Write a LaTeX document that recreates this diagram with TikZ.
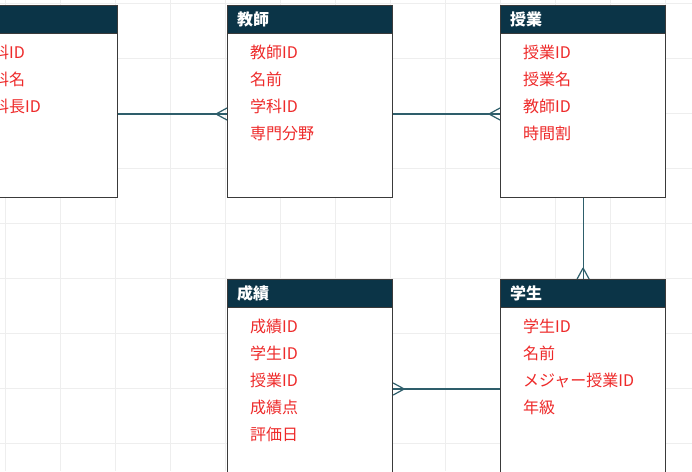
\documentclass[tikz,border=0pt]{standalone}
\usepackage{fontspec}
\newfontfamily\jp{Noto Sans CJK JP}
\usetikzlibrary{calc}
\definecolor{hdr}{HTML}{0B3447}
\definecolor{edgec}{HTML}{2E5E6B}
\definecolor{attr}{HTML}{EE2A2A}
\definecolor{gridc}{HTML}{EEEEEE}
\definecolor{boxc}{HTML}{3A3A3A}
\tikzset{
  entity/.style={draw=boxc, line width=1.2pt, fill=white, minimum width=165pt, minimum height=192pt, anchor=north west, inner sep=0pt},
  tallentity/.style={entity, minimum height=210pt},
  header/.style={draw=boxc, line width=1.2pt, fill=hdr, minimum width=165pt, minimum height=28pt, anchor=north west, inner sep=0pt},
  title/.style={anchor=west, text=white, inner sep=0pt, font=\jp\bfseries\fontsize{16}{19}\selectfont},
  field/.style={anchor=west, text=attr, inner sep=0pt, font=\jp\fontsize{16}{19}\selectfont},
  rel/.style={draw=edgec, line width=1.2pt},
}
\begin{document}
\begin{tikzpicture}[x=1pt,y=-1pt]
\useasboundingbox (0,0) rectangle (692,471);
\clip (0,0) rectangle (692,471);
\fill[white] (0,0) rectangle (692,471);
\foreach \x in {5,60,...,665} \draw[gridc, line width=0.6pt] (\x,0) -- (\x,471);
\foreach \y in {3,58,...,443} \draw[gridc, line width=0.6pt] (0,\y) -- (692,\y);

% left (partly hidden) entity
\node[entity] (gk) at (-48,5) {};
\node[header] (gkh) at (-48,5) {};
\node[field] (gk1) at (-23,52) {学科ID};
\node[field] (gk2) at (-23,79) {学科名};
\node[field] (gk3) at (-23,106) {学科長ID};

% 教師
\node[entity] (ky) at (227,5) {};
\node[header] (kyh) at (227,5) {};
\node[title] (kyt) at (237,19) {教師};
\node[field] (ky1) at (250,52) {教師ID};
\node[field] (ky2) at (250,79) {名前};
\node[field] (ky3) at (250,106) {学科ID};
\node[field] (ky4) at (250,133) {専門分野};

% 授業
\node[entity] (ju) at (500,5) {};
\node[header] (juh) at (500,5) {};
\node[title] (jut) at (510,19) {授業};
\node[field] (ju1) at (523,52) {授業ID};
\node[field] (ju2) at (523,79) {授業名};
\node[field] (ju3) at (523,106) {教師ID};
\node[field] (ju4) at (523,133) {時間割};

% 成績
\node[tallentity] (sc) at (227,279) {};
\node[header] (sch) at (227,279) {};
\node[title] (sct) at (237,293) {成績};
\node[field] (sc1) at (250,326) {成績ID};
\node[field] (sc2) at (250,353) {学生ID};
\node[field] (sc3) at (250,380) {授業ID};
\node[field] (sc4) at (250,407) {成績点};
\node[field] (sc5) at (250,434) {評価日};

% 学生
\node[tallentity] (gs) at (500,279) {};
\node[header] (gsh) at (500,279) {};
\node[title] (gst) at (510,293) {学生};
\node[field] (gs1) at (523,326) {学生ID};
\node[field] (gs2) at (523,353) {名前};
\node[field] (gs3) at (523,380) {メジャー授業ID};
\node[field] (gs4) at (523,407) {年級};

% connectors
\coordinate (a1) at ($(gk.north east)+(0,109)$);
\coordinate (a2) at ($(ky.north west)+(0,109)$);
\draw[rel] (a1) -- (a2);
\draw[rel] (a2) ++(-11,0) -- ++(11,-6);
\draw[rel] (a2) ++(-11,0) -- ++(11,6);

\coordinate (b1) at ($(ky.north east)+(0,109)$);
\coordinate (b2) at ($(ju.north west)+(0,109)$);
\draw[rel] (b1) -- (b2);
\draw[rel] (b2) ++(-11,0) -- ++(11,-6);
\draw[rel] (b2) ++(-11,0) -- ++(11,6);

\coordinate (c1) at (ju.south);
\coordinate (c2) at (gs.north);
\draw[rel] (c1) -- (c2);
\draw[rel] (c2) ++(0,-11) -- ++(-6,11);
\draw[rel] (c2) ++(0,-11) -- ++(6,11);

\coordinate (d1) at ($(gs.north west)+(0,110)$);
\coordinate (d2) at ($(sc.north east)+(0,110)$);
\draw[rel] (d1) -- (d2);
\draw[rel] (d2) ++(11,0) -- ++(-11,-6);
\draw[rel] (d2) ++(11,0) -- ++(-11,6);
\end{tikzpicture}
\end{document}
